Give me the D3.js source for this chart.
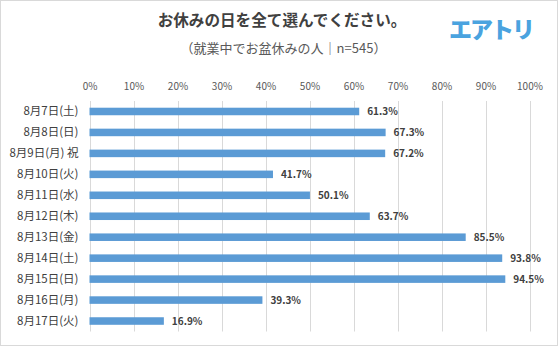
<!DOCTYPE html>
<html><head><meta charset="utf-8">
<script src="https://cdn.jsdelivr.net/npm/d3@7"></script>
<style>
html,body{margin:0;padding:0;background:#fff;}
svg{display:block;font-family:"Noto Sans CJK JP","Noto Sans",sans-serif;}
</style></head>
<body><div id="chart"></div>
<script>
const categories = ["8月7日(土)","8月8日(日)","8月9日(月) 祝","8月10日(火)","8月11日(水)","8月12日(木)","8月13日(金)","8月14日(土)","8月15日(日)","8月16日(月)","8月17日(火)"];
const values = [61.3,67.3,67.2,41.7,50.1,63.7,85.5,93.8,94.5,39.3,16.9];
const tickValues = [0,10,20,30,40,50,60,70,80,90,100];
const title = "お休みの日を全て選んでください。";
const subtitle = "（就業中でお盆休みの人｜n=545）";
const logo = "エアトリ";

const W=558,H=346;
const svg=d3.select("#chart").append("svg").attr("width",W).attr("height",H);
svg.append("rect").attr("x",0.5).attr("y",0.5).attr("width",W-1).attr("height",H-1).attr("fill","#fff").attr("stroke","#d9d9d9");

const x=d3.scaleLinear().domain([0,100]).range([89.5,529.5]);
const y=d3.scaleBand().domain(categories).range([101,331.5]).paddingInner(0.64).paddingOuter(0.32);

// gridlines
svg.append("g").selectAll("line").data(tickValues).join("line")
  .attr("x1",d=>Math.round(x(d))+0.5).attr("x2",d=>Math.round(x(d))+0.5)
  .attr("y1",101).attr("y2",331.5).attr("stroke","#d9d9d9").attr("stroke-width",1);

// top axis labels
const ax=svg.append("g").attr("transform","translate(0,90)")
  .call(d3.axisTop(x).tickValues(tickValues).tickSize(0).tickPadding(0).tickFormat(d=>d+"%"));
ax.select(".domain").remove();
ax.selectAll("text").attr("fill","#595959").attr("font-size",10).attr("font-family","'Noto Sans CJK JP',sans-serif");

// left labels
const ay=svg.append("g").attr("transform","translate(78.5,0)")
  .call(d3.axisLeft(y).tickSize(0).tickPadding(0));
ay.select(".domain").remove();
ay.selectAll("text").attr("fill","#404040").attr("font-size",11.5).attr("font-family","'Noto Sans CJK JP',sans-serif");

// bars
svg.append("g").selectAll("rect").data(values).join("rect")
  .attr("x",x(0)).attr("y",(d,i)=>y(categories[i]))
  .attr("width",d=>x(d)-x(0)).attr("height",y.bandwidth())
  .attr("fill","#5b9bd5");

// value labels
svg.append("g").selectAll("text").data(values).join("text")
  .attr("x",d=>x(d)+8).attr("y",(d,i)=>y(categories[i])+y.bandwidth()/2)
  .attr("dy","0.35em").attr("fill","#404040").attr("font-size",10).attr("font-weight","bold")
  .text(d=>d.toFixed(1)+"%");

// titles
svg.append("text").attr("x",282).attr("y",26).attr("text-anchor","middle")
  .attr("font-size",15.6).attr("font-weight","bold").attr("fill","#404040").text(title);
svg.append("text").attr("x",283.5).attr("y",52.5).attr("text-anchor","middle")
  .attr("font-size",13).attr("fill","#595959").text(subtitle);
svg.append("text").attr("x",491).attr("y",37.5).attr("text-anchor","middle")
  .attr("font-size",23).attr("font-weight","900").attr("letter-spacing",-2).attr("fill","#4aa3df").text(logo);
</script></body></html>
